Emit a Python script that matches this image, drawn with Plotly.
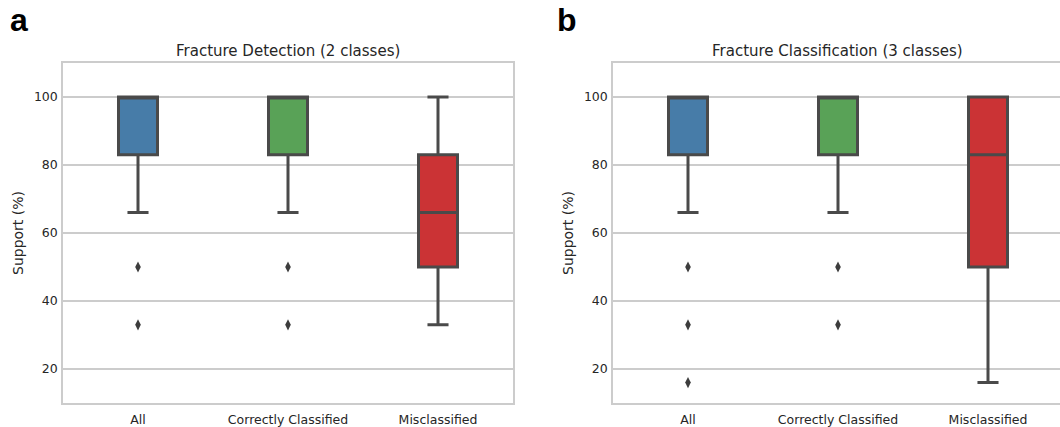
import plotly.graph_objects as go

categories = ["All", "Correctly Classified", "Misclassified"]
colors = ["#477ca8", "#59a257", "#cb3335"]

# Panel a: Fracture Detection (2 classes)
a_q1 = [83, 83, 50]
a_median = [100, 100, 66]
a_q3 = [100, 100, 83]
a_low = [66, 66, 33]
a_high = [100, 100, 100]
a_outliers = [[50, 33], [50, 33], []]

# Panel b: Fracture Classification (3 classes)
b_q1 = [83, 83, 50]
b_median = [100, 100, 83]
b_q3 = [100, 100, 100]
b_low = [66, 66, 16]
b_high = [100, 100, 100]
b_outliers = [[50, 33, 16], [50, 33], []]

titles = ["Fracture Detection (2 classes)", "Fracture Classification (3 classes)"]
ylabel = "Support (%)"
yticks = [20, 40, 60, 80, 100]

LINE = "#4a4a4a"
GRID = "#cccccc"
TXT = "#262626"
FONT = "DejaVu Sans"

W, H = 1060, 427
fig = go.Figure()

panels = [
    (a_q1, a_median, a_q3, a_low, a_high, a_outliers, "x", "y"),
    (b_q1, b_median, b_q3, b_low, b_high, b_outliers, "x2", "y2"),
]
for q1, med, q3, lo, hi, outs, xa, ya in panels:
    for i, cat in enumerate(categories):
        fig.add_trace(go.Box(
            x=[cat], q1=[q1[i]], median=[med[i]], q3=[q3[i]],
            lowerfence=[lo[i]], upperfence=[hi[i]],
            fillcolor=colors[i], line=dict(color=LINE, width=3),
            width=0.26, whiskerwidth=0.54, boxpoints=False,
            xaxis=xa, yaxis=ya, showlegend=False, hoverinfo="skip",
        ))
        if outs[i]:
            fig.add_trace(go.Scatter(
                x=[cat] * len(outs[i]), y=outs[i], mode="markers",
                marker=dict(symbol="diamond-tall", size=8, color="#3d3d3d"),
                xaxis=xa, yaxis=ya, showlegend=False, hoverinfo="skip",
            ))

def px_x(p):
    return p / W

def px_y(p):
    return 1 - p / H

ydom = [px_y(403), px_y(63)]
xdom1 = [px_x(63), px_x(513)]
xdom2 = [px_x(613), 1.0]

common_x = dict(
    type="category", categoryorder="array", categoryarray=categories,
    showgrid=False, showline=True, linecolor=GRID, linewidth=1.5, mirror=True,
    ticks="", tickfont=dict(family=FONT, size=12.5, color=TXT), zeroline=False,
    ticklabelstandoff=4, fixedrange=True,
)
common_y = dict(
    range=[10, 110], tickvals=yticks, showgrid=True, gridcolor=GRID, gridwidth=1.5,
    showline=True, linecolor=GRID, linewidth=1.5, ticks="", zeroline=False,
    tickfont=dict(family=FONT, size=12.5, color=TXT), ticklabelstandoff=1,
    fixedrange=True,
)

fig.update_layout(
    width=W, height=H, margin=dict(l=0, r=0, t=0, b=0),
    paper_bgcolor="white", plot_bgcolor="white",
    xaxis=dict(domain=xdom1, range=[-0.5, 2.5], anchor="y", **common_x),
    yaxis=dict(domain=ydom, anchor="x", mirror=True, **common_y),
    xaxis2=dict(domain=xdom2, range=[-0.5, 2.5 - 3 / 150], anchor="y2", **common_x),
    yaxis2=dict(domain=ydom, anchor="x2", mirror=False, **common_y),
    showlegend=False,
)

annotations = [
    dict(text="<b>a</b>", x=px_x(8), y=px_y(40), xanchor="left", yanchor="bottom",
         font=dict(family="Liberation Sans", size=32, color="black")),
    dict(text="<b>b</b>", x=px_x(555), y=px_y(40), xanchor="left", yanchor="bottom",
         font=dict(family="Liberation Sans", size=32, color="black")),
    dict(text=titles[0], x=px_x(288), y=px_y(62), xanchor="center", yanchor="bottom",
         font=dict(family=FONT, size=15, color=TXT)),
    dict(text=titles[1], x=px_x(837), y=px_y(62), xanchor="center", yanchor="bottom",
         font=dict(family=FONT, size=15, color=TXT)),
    dict(text=ylabel, x=px_x(18), y=px_y(233), xanchor="center", yanchor="middle",
         textangle=-90, font=dict(family=FONT, size=14, color=TXT)),
    dict(text=ylabel, x=px_x(568), y=px_y(233), xanchor="center", yanchor="middle",
         textangle=-90, font=dict(family=FONT, size=14, color=TXT)),
]
for a in annotations:
    a.update(xref="paper", yref="paper", showarrow=False)
fig.update_layout(annotations=annotations)

fig.write_html("out.html", config={"displayModeBar": False},
               post_script="document.body.style.margin='0';")
